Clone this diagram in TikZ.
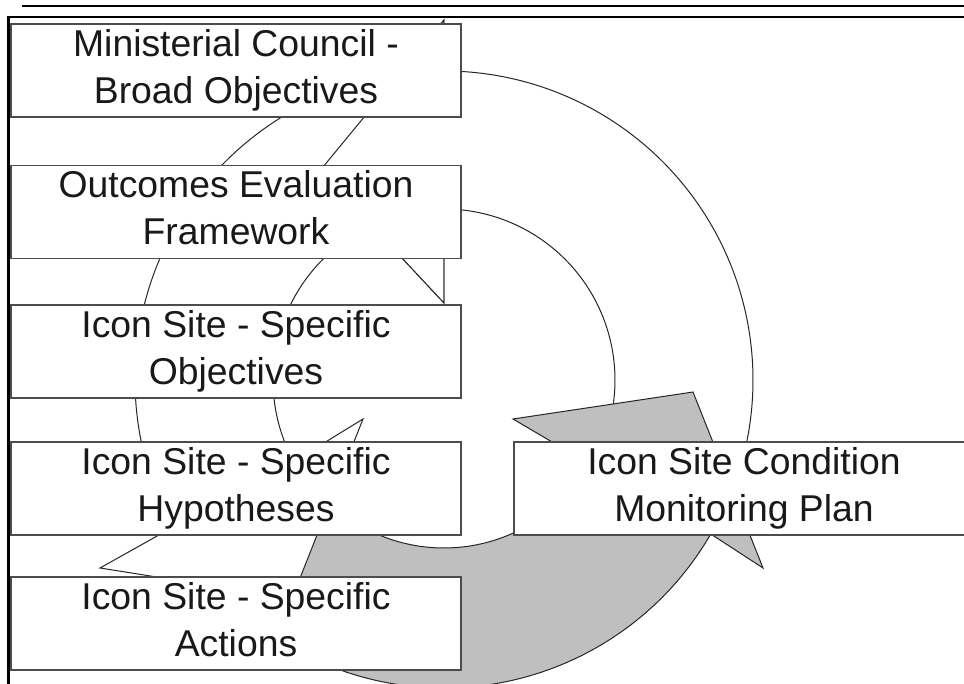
\documentclass[tikz,border=0pt]{standalone}
\usepackage{fontspec}
\setmainfont{Liberation Sans}
\newcommand\mystrut{\rule[-10.5pt]{0pt}{35pt}}
\begin{document}
\begin{tikzpicture}[x=0.75pt,y=0.75pt,
  box/.style={draw=black!70, line width=1.1pt, fill=white, minimum width=337.5pt, minimum height=67.5pt, inner sep=0pt, align=center, font=\fontsize{28}{35}\selectfont, text=black!90},
  arrowline/.style={draw=black!85, line width=0.75pt, line join=miter},
  whitearrow/.style={arrowline, fill=white},
  greyarrow/.style={arrowline, fill=black!25},
  frameline/.style={draw=black, line join=miter}]
\useasboundingbox (-444,-304) rectangle (520,380);
\fill[white] (-444,-304) rectangle (520,380);
\clip (-444,-304) rectangle (520,380);
% arrow ending at the top (white)
\path[whitearrow] (-25:309) arc[start angle=-25,end angle=90,radius=309] -- (90:360) -- (-123.8,209.6) -- (90:77) -- (90:171) arc[start angle=90,end angle=-25,radius=171] -- cycle;
% grey arrow ending at the right
\path[greyarrow] (215:308) arc[start angle=215,end angle=330,radius=308] -- (319,-188) -- (249,-12) -- (69,-39) -- (330:168) arc[start angle=330,end angle=215,radius=168] -- cycle;
% arrow ending at the lower left (white)
\path[whitearrow] (95:309) arc[start angle=95,end angle=208.5,radius=309] -- (-344,-188) -- (-152.1,-218.5) -- (-81,-39) -- (208.5:171) arc[start angle=208.5,end angle=95,radius=171] -- cycle;
% head of the top arrow again, over the tail of the left arrow
\fill[white] (90:360) -- (-123.8,209.6) -- (90:77) -- cycle;
\draw[arrowline] (90:309) -- (90:360) -- (-123.8,209.6) -- (90:77) -- (90:171);
% boxes
\node[box] (b1) at (-208,309.5) {\mystrut Ministerial Council -\\\mystrut Broad Objectives};
\node[box] (b2) at (-208,168) {\mystrut Outcomes Evaluation\\\mystrut Framework};
\node[box] (b3) at (-208,28.5) {\mystrut Icon Site - Specific\\\mystrut Objectives};
\node[box] (b4) at (-208,-108.5) {\mystrut Icon Site - Specific\\\mystrut Hypotheses};
\node[box] (b5) at (-208,-243.5) {\mystrut Icon Site - Specific\\\mystrut Actions};
\node[box, minimum width=345pt] (b6) at (300,-108.5) {\mystrut Icon Site Condition\\\mystrut Monitoring Plan};
% page frame lines
\draw[frameline, line width=1.1pt] (-422,374) -- (520,374);
\draw[frameline, line width=2.2pt] (-435.5,-304) -- (-435.5,363) -- (520,363);
\end{tikzpicture}
\end{document}
